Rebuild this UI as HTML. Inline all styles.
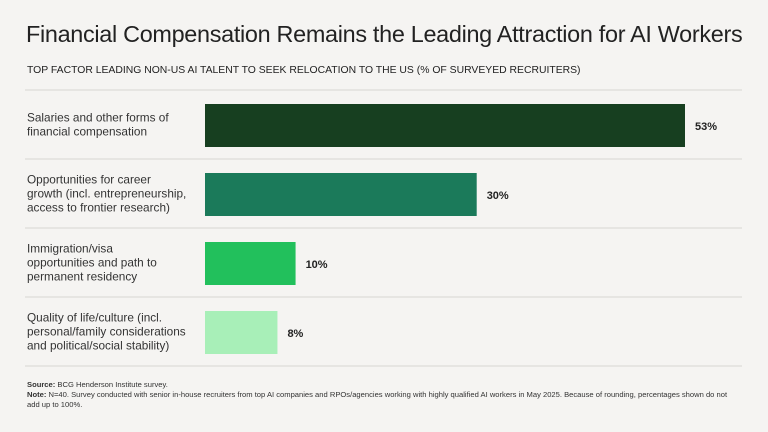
<!DOCTYPE html>
<html><head><meta charset="utf-8"><style>
body{margin:0;background:#f5f4f2;width:768px;height:432px;overflow:hidden;font-family:"Liberation Sans",sans-serif;color:#222}
.t{position:absolute;left:26px;top:21px;font-size:23.4px;font-weight:300;color:#222;white-space:nowrap;letter-spacing:-0.3px}
.s{position:absolute;left:27px;top:65px;font-size:10.4px;color:#222;white-space:nowrap}
.f{position:absolute;left:27px;font-size:7.6px;color:#333}
</style></head><body>
<div class="t">Financial Compensation Remains the Leading Attraction for AI Workers</div>
<div class="s">TOP FACTOR LEADING NON-US AI TALENT TO SEEK RELOCATION TO THE US (% OF SURVEYED RECRUITERS)</div>
<svg id="c" width="768" height="432" style="position:absolute;left:0;top:0"></svg>
<div class="f" style="top:380px"><b>Source:</b> BCG Henderson Institute survey.</div>
<div class="f" style="top:390px;width:706px;line-height:10px"><b>Note:</b> N=40. Survey conducted with senior in-house recruiters from top AI companies and RPOs/agencies working with highly qualified AI workers in May 2025. Because of rounding, percentages shown do not add up to 100%.</div>
<script>
const categories=[["Salaries and other forms of","financial compensation"],["Opportunities for career","growth (incl. entrepreneurship,","access to frontier research)"],["Immigration/visa","opportunities and path to","permanent residency"],["Quality of life/culture (incl.","personal/family considerations","and political/social stability)"]];
const values=[53,30,10,8];
const colors=["#173f20","#1b7a5a","#22c05c","#a8efb8"];
const svg=document.getElementById('c');const NS="http://www.w3.org/2000/svg";
const x0=205,pxPer=480/53,rowTop=90,rowH=69;
const xs=v=>x0+v*pxPer;
function mk(t,a){const e=document.createElementNS(NS,t);for(const k in a)e.setAttribute(k,a[k]);svg.appendChild(e);return e;}
for(let i=0;i<=values.length;i++){const l=mk('line',{x1:25,x2:742,y1:rowTop+i*rowH,y2:rowTop+i*rowH,stroke:'#d8d6d3','stroke-width':1});

}
values.forEach((v,i)=>{
 const y=rowTop+i*rowH+14;
 const r=mk('rect',{x:x0,y:y,width:xs(v)-x0,height:43,fill:colors[i]});
 
 
 const t=mk('text',{x:xs(v)+10,y:y+26,'font-size':11,'font-weight':'bold',fill:'#222'});t.textContent=v+'%';
 
 
 const lines=categories[i];const cy=rowTop+i*rowH+rowH/2;const st=cy-(lines.length-1)*7+4;
 lines.forEach((s,j)=>{const c=mk('text',{x:27,y:st+j*14,'font-size':11.8,fill:'#333'});c.textContent=s;
 
 });
});
</script>
</body></html>
